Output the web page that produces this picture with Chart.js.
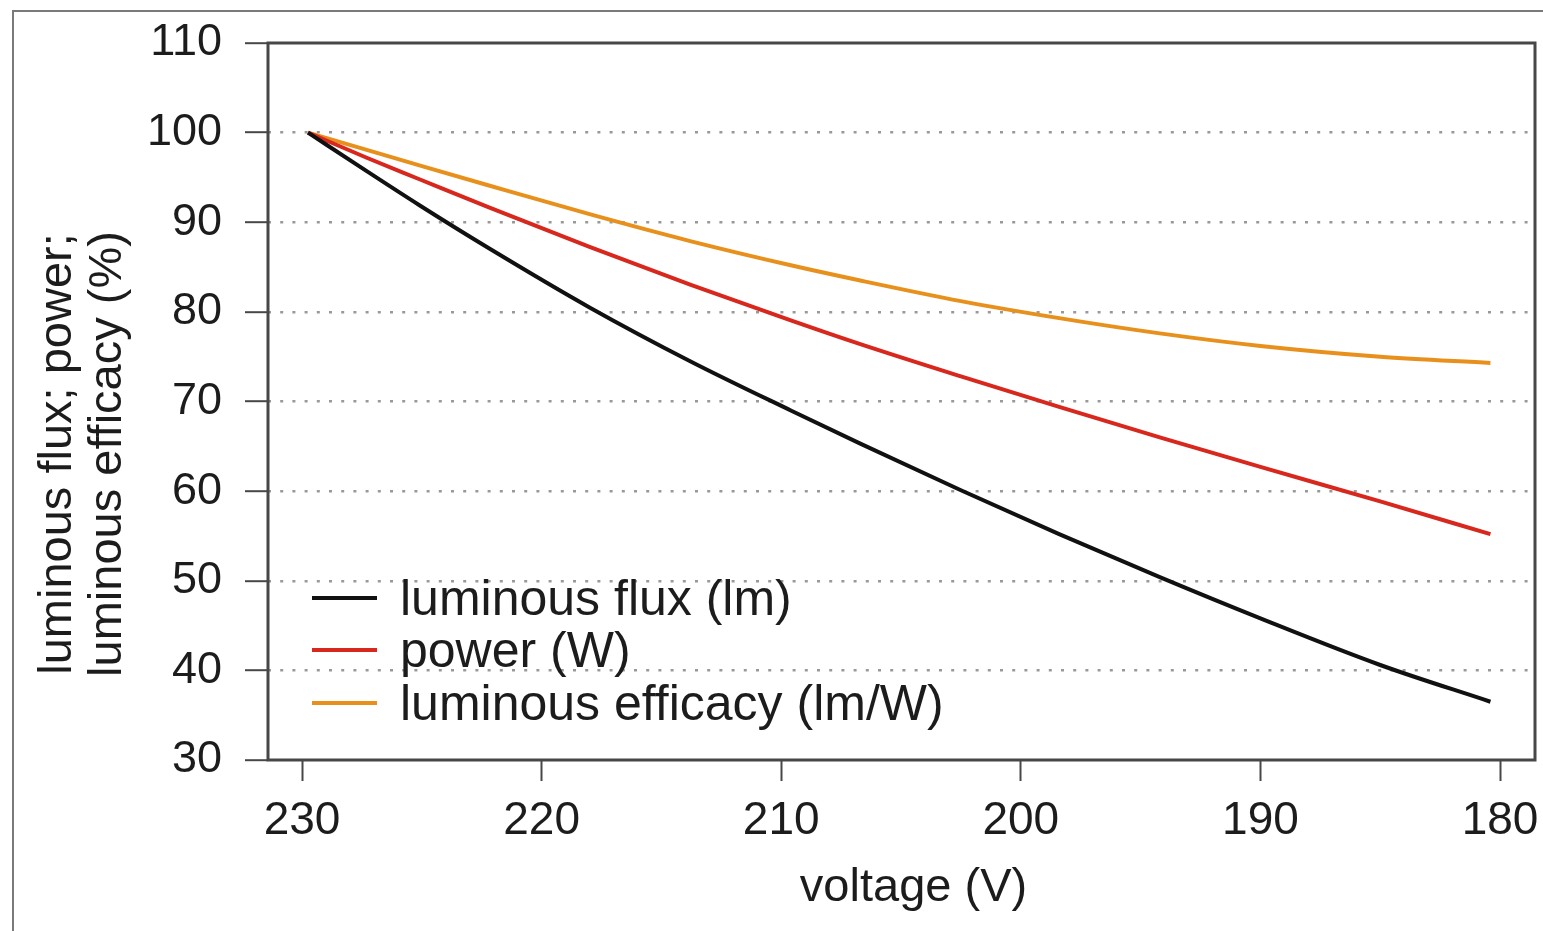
<!DOCTYPE html>
<html>
<head>
<meta charset="utf-8">
<title>Lamp characteristics vs. supply voltage</title>
<script src="https://cdn.jsdelivr.net/npm/chart.js@4"></script>
<style>
  html, body { margin: 0; padding: 0; background: #fff; overflow: hidden; }
  #wrap { position: relative; width: 1543px; height: 931px; }
  #wrap canvas { position: absolute; left: 0; top: 0; }
  #frame {
    position: absolute; left: 12px; top: 10px; width: 1700px; height: 1100px;
    border-left: 2px solid #7a7a7a; border-top: 2px solid #7a7a7a;
    pointer-events: none;
  }
</style>
</head>
<body>
<div id="wrap">
  <canvas id="chart" width="1543" height="931"></canvas>
  <div id="frame"></div>
</div>
<script>
// Supply voltage (V) at which each series is sampled
const voltage = [229.75, 227.3, 225.1, 222.2, 218.0, 213.8, 209.6, 206.7, 202.5, 198.4, 194.2, 190.0, 185.0, 180.4];

// Relative values (%) of the lamp quantities
const luminousFlux = [100, 95.7, 91.9, 87.1, 80.5, 74.5, 69.0, 65.3, 60.1, 55.2, 50.4, 45.8, 40.6, 36.5];
const powerDraw    = [100, 97.2, 94.8, 91.65, 87.25, 83.05, 79.05, 76.4, 72.8, 69.4, 66.0, 62.7, 58.85, 55.2];
const efficacy     = [100, 98.07, 96.35, 94.1, 90.9, 87.9, 85.2, 83.5, 81.2, 79.3, 77.6, 76.2, 75.0, 74.3];

const seriesLabels = ['luminous flux (lm)', 'power (W)', 'luminous efficacy (lm/W)'];
const seriesColors = ['#111111', '#d8281e', '#e8901c'];

const xTickValues = [230, 220, 210, 200, 190, 180];
const yTickValues = [30, 40, 50, 60, 70, 80, 90, 100, 110];

const xAxisTitle = 'voltage (V)';
const yAxisTitle = ['luminous flux; power;', 'luminous efficacy (%)'];

const FONT = "'Liberation Sans', Arial, Helvetica, sans-serif";
const TEXT = '#1c1c1c';
const AXIS = '#474747';

const toPoints = vals => voltage.map((v, i) => ({ x: v, y: vals[i] }));

const datasets = [luminousFlux, powerDraw, efficacy].map((vals, i) => ({
  label: seriesLabels[i],
  data: toPoints(vals),
  borderColor: seriesColors[i],
  backgroundColor: seriesColors[i],
  borderWidth: 4,
  pointRadius: 0,
  fill: false,
  cubicInterpolationMode: 'monotone'
}));

// Plot frame, axis titles and the in-plot legend
const decorations = {
  id: 'decorations',
  beforeDatasetsDraw(chart) {
    const { ctx, chartArea: a } = chart;
    ctx.save();
    ctx.strokeStyle = AXIS;
    ctx.lineWidth = 3;
    ctx.strokeRect(a.left, a.top, a.right - a.left, a.bottom - a.top);
    ctx.restore();
  },
  afterDraw(chart) {
    const { ctx, chartArea: a } = chart;
    ctx.save();
    ctx.fillStyle = TEXT;

    // x axis title
    ctx.font = `47px ${FONT}`;
    ctx.textAlign = 'center';
    ctx.textBaseline = 'alphabetic';
    ctx.fillText(xAxisTitle, (a.left + a.right) / 2 + 12, 901);

    // y axis title, two rotated lines
    ctx.save();
    ctx.translate(0, 454);
    ctx.rotate(-Math.PI / 2);
    ctx.fillText(yAxisTitle[0], 0, 71);
    ctx.fillText(yAxisTitle[1], 0, 121);
    ctx.restore();

    // legend
    const lx = a.left + 44;
    const baselines = [615, 667, 720];
    ctx.font = `50px ${FONT}`;
    ctx.textAlign = 'left';
    chart.data.datasets.forEach((ds, i) => {
      const yb = baselines[i];
      ctx.strokeStyle = ds.borderColor;
      ctx.lineWidth = 4;
      ctx.beginPath();
      ctx.moveTo(lx, yb - 17);
      ctx.lineTo(lx + 65, yb - 17);
      ctx.stroke();
      ctx.fillStyle = TEXT;
      ctx.fillText(ds.label, lx + 88, yb);
    });
    ctx.restore();
  }
};

new Chart(document.getElementById('chart'), {
  type: 'line',
  data: { datasets },
  plugins: [decorations],
  options: {
    responsive: false,
    animation: false,
    devicePixelRatio: 1,
    layout: { padding: { top: 43, right: 8, left: 0, bottom: 0 } },
    plugins: { legend: { display: false }, tooltip: { enabled: false } },
    scales: {
      x: {
        type: 'linear',
        reverse: true,
        min: 178.54,
        max: 231.42,
        afterBuildTicks: s => { s.ticks = xTickValues.map(v => ({ value: v })); },
        afterFit: s => { s.height = 171; s.paddingLeft = 0; s.paddingRight = 0; },
        ticks: {
          font: { family: FONT, size: 46 },
          color: TEXT,
          padding: 13,
          maxRotation: 0,
          autoSkip: false,
          callback: v => String(v)
        },
        grid: {
          drawOnChartArea: false,
          drawTicks: true,
          tickLength: 21,
          tickWidth: 2,
          tickColor: AXIS
        },
        border: { display: false }
      },
      y: {
        type: 'linear',
        min: 30,
        max: 110,
        afterBuildTicks: s => { s.ticks = yTickValues.map(v => ({ value: v })); },
        afterFit: s => { s.width = 268; s.paddingTop = 0; s.paddingBottom = 0; },
        ticks: {
          font: { family: FONT, size: 45 },
          color: TEXT,
          padding: 23,
          callback: v => String(v)
        },
        grid: {
          drawOnChartArea: true,
          color: c => (c.tick && (c.tick.value === 30 || c.tick.value === 110)) ? 'rgba(0,0,0,0)' : '#999999',
          lineWidth: 2.4,
          borderDash: [3, 9.2],
          tickLength: 23,
          tickWidth: 2,
          tickColor: AXIS,
          tickBorderDash: []
        },
        border: { display: false, dash: [3, 9.2] }
      }
    }
  }
});
</script>
</body>
</html>
